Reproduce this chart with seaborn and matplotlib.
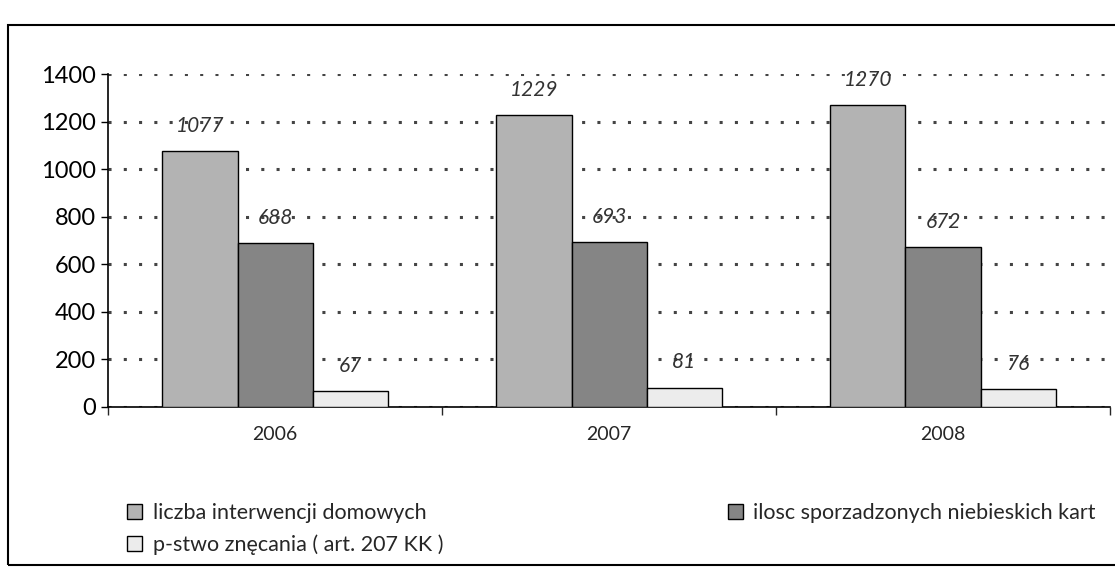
import pandas as pd
import matplotlib.pyplot as plt
import seaborn as sns
from matplotlib.patches import Rectangle

lata = ['2006', '2007', '2008']
serie = ['liczba interwencji domowych',
         'ilosc sporzadzonych niebieskich kart',
         'p-stwo znęcania ( art. 207 KK )']
interwencje = [1077, 1229, 1270]
niebieskie_karty = [688, 693, 672]
znecanie = [67, 81, 76]

kolory = ['#b3b3b3', '#858585', '#ececec']

df = pd.DataFrame({
    'rok': lata * 3,
    'seria': [serie[0]] * 3 + [serie[1]] * 3 + [serie[2]] * 3,
    'wartosc': interwencje + niebieskie_karty + znecanie,
})

sns.set_style('white')
plt.rcParams['font.family'] = ['Lato', 'DejaVu Sans']

fig = plt.figure(figsize=(11.15, 5.68), dpi=100)
ax = fig.add_axes([0.097, 0.2835, 0.8985, 0.586])

sns.barplot(data=df, x='rok', y='wartosc', hue='seria', palette=kolory,
            width=0.675, edgecolor='black', linewidth=1.0, ax=ax, zorder=3)

for cont in ax.containers:
    ax.bar_label(cont, padding=11, fontsize=15, fontstyle='italic', color='#333333')

ax.set_ylim(0, 1400)
ax.set_xlim(-0.5, 2.5)
ax.set_yticks(range(0, 1401, 200))
ax.tick_params(axis='y', labelsize=17, direction='out', length=5, width=1,
               colors='black', left=True, pad=4)
ax.tick_params(axis='x', which='major', labelsize=14, length=0, pad=14)
ax.set_xticks([-0.5, 0.5, 1.5, 2.5], minor=True)
ax.tick_params(axis='x', which='minor', direction='out', length=6, width=1, bottom=True)
ax.set_xlabel('')
ax.set_ylabel('')

ax.yaxis.grid(True, linestyle=(0, (1, 4)), linewidth=2.2, color='#444444', zorder=0)
ax.set_axisbelow(True)
for s in ['top', 'right']:
    ax.spines[s].set_visible(False)
ax.spines['left'].set_color('black')
ax.spines['bottom'].set_color('black')
ax.spines['left'].set_linewidth(1.2)
ax.spines['bottom'].set_linewidth(1.2)

uchwyty, etykiety = ax.get_legend_handles_labels()
ax.get_legend().remove()
kolejnosc = [0, 2, 1]
fig.legend([uchwyty[i] for i in kolejnosc], [etykiety[i] for i in kolejnosc],
           ncol=2, loc='upper left', bbox_to_anchor=(0.114, 0.115), frameon=False,
           fontsize=15.5, handlelength=0.7, handleheight=0.7, handletextpad=0.5,
           columnspacing=13.2, labelspacing=0.55, borderpad=0, borderaxespad=0)

fig.patches.append(Rectangle((0.007, 0.005), 1.0, 0.951, transform=fig.transFigure,
                             fill=False, edgecolor='black', linewidth=1.5))

fig.savefig('out.png', dpi=100)
